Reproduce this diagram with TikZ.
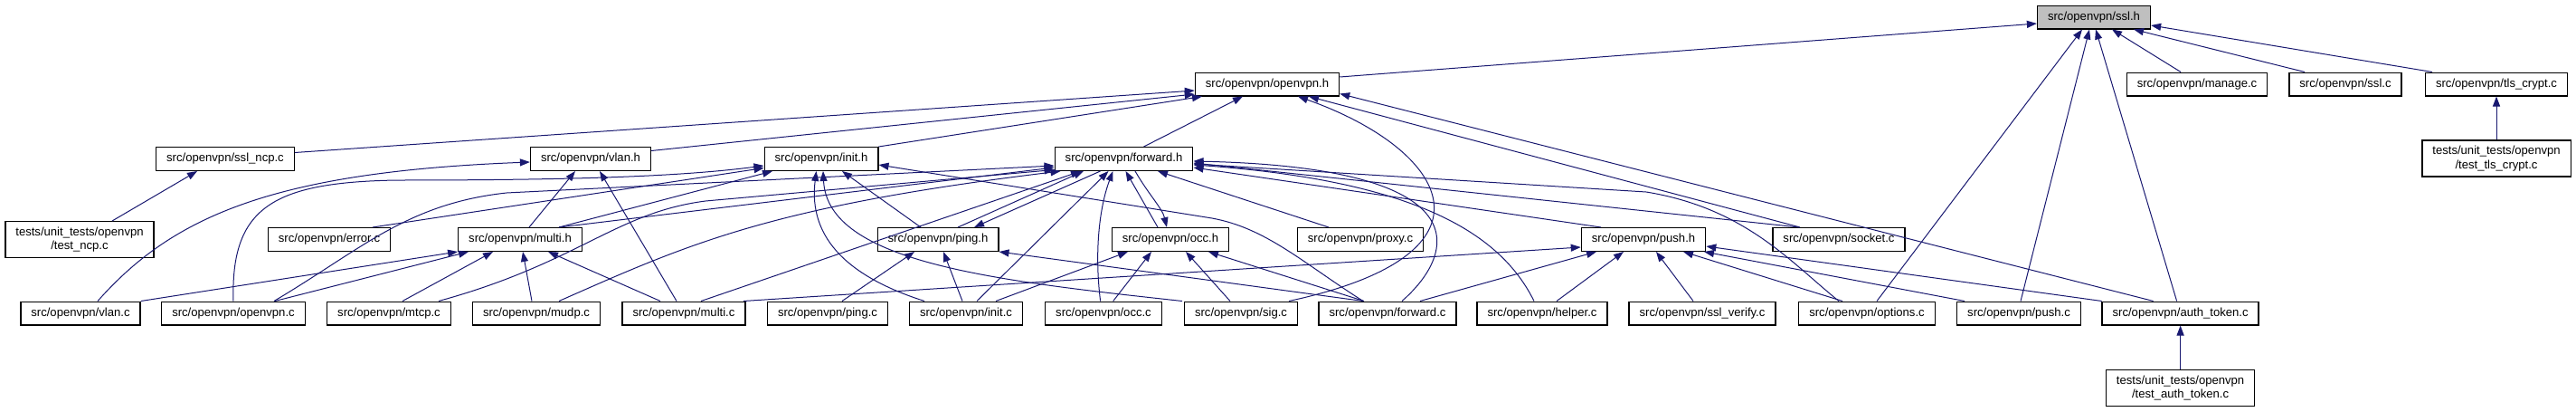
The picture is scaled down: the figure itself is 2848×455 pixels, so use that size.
\documentclass[tikz,border=0pt]{standalone}
\usepackage{fontspec}
\setmainfont{Liberation Sans}
\usetikzlibrary{arrows.meta}
\definecolor{depblue}{RGB}{25,25,112}

\begin{document}
\begin{tikzpicture}[
  x=1pt, y=-1pt,
  file/.style={draw, line width=1.3pt, fill=white, align=center, minimum height=25.7pt, inner xsep=11.5pt, inner ysep=6pt, font=\fontsize{13.1}{15.5}\selectfont},
  dep/.style={draw=depblue, line width=1pt, -{Triangle[length=11pt,width=8pt]}}
]
\useasboundingbox (0,0) rectangle (2848,455);
% row 0 and 1
\node[file, fill=black!25] (sslh) at (2315,19) {src/openvpn/ssl.h};
\node[file] (openvpnh) at (1401,93) {src/openvpn/openvpn.h};
\node[file] (managec) at (2429,93) {src/openvpn/manage.c};
\node[file] (sslc) at (2593,93) {src/openvpn/ssl.c};
\node[file] (tlscryptc) at (2760,93) {src/openvpn/tls\_crypt.c};
% row 2
\node[file] (sslncpc) at (249,175.5) {src/openvpn/ssl\_ncp.c};
\node[file] (vlanh) at (653,175.5) {src/openvpn/vlan.h};
\node[file] (inith) at (908,175.5) {src/openvpn/init.h};
\node[file] (forwardh) at (1242.5,175.5) {src/openvpn/forward.h};
\node[file] (testtlscrypt) at (2760,175) {tests/unit\_tests/openvpn\\/test\_tls\_crypt.c};
% row 3
\node[file] (testncp) at (88,264.5) {tests/unit\_tests/openvpn\\/test\_ncp.c};
\node[file] (errorc) at (364,264.5) {src/openvpn/error.c};
\node[file] (multih) at (575,264.5) {src/openvpn/multi.h};
\node[file] (pingh) at (1037,264.5) {src/openvpn/ping.h};
\node[file] (occh) at (1294,264.5) {src/openvpn/occ.h};
\node[file] (proxyc) at (1504,264.5) {src/openvpn/proxy.c};
\node[file] (pushh) at (1817,264.5) {src/openvpn/push.h};
\node[file] (socketc) at (2033,264.5) {src/openvpn/socket.c};
% row 4
\node[file] (vlanc) at (89,346) {src/openvpn/vlan.c};
\node[file] (openvpnc) at (258,346) {src/openvpn/openvpn.c};
\node[file] (mtcpc) at (430,346) {src/openvpn/mtcp.c};
\node[file] (mudpc) at (593,346) {src/openvpn/mudp.c};
\node[file] (multic) at (756,346) {src/openvpn/multi.c};
\node[file] (pingc) at (915,346) {src/openvpn/ping.c};
\node[file] (initc) at (1068,346) {src/openvpn/init.c};
\node[file] (occc) at (1220,346) {src/openvpn/occ.c};
\node[file] (sigc) at (1372,346) {src/openvpn/sig.c};
\node[file] (forwardc) at (1534,346) {src/openvpn/forward.c};
\node[file] (helperc) at (1705,346) {src/openvpn/helper.c};
\node[file] (sslverifyc) at (1882,346) {src/openvpn/ssl\_verify.c};
\node[file] (optionsc) at (2064,346) {src/openvpn/options.c};
\node[file] (pushc) at (2232,346) {src/openvpn/push.c};
\node[file] (authtokenc) at (2410.6,346) {src/openvpn/auth\_token.c};
% row 5
\node[file] (testauthtoken) at (2410.6,428.5) {tests/unit\_tests/openvpn\\/test\_auth\_token.c};

% into ssl.h
\draw[dep] ([yshift=8pt]openvpnh.east) -- ([yshift=-7pt]sslh.west);
\draw[dep] ([xshift=-18pt]managec.north) -- ([xshift=20pt]sslh.south);
\draw[dep] ([xshift=-45pt]sslc.north) -- ([xshift=44pt]sslh.south);
\draw[dep] ([xshift=-71pt]tlscryptc.north) -- ([yshift=-9pt]sslh.east);
\draw[dep] ([xshift=11pt]optionsc.north) -- ([xshift=-13pt]sslh.south);
\draw[dep] ([xshift=2pt]pushc.north) -- ([xshift=-5pt]sslh.south);
\draw[dep] ([xshift=-4pt]authtokenc.north) -- ([xshift=2pt]sslh.south);
\draw[dep] (testtlscrypt) -- (tlscryptc);
\draw[dep] (testauthtoken) -- (authtokenc);
% into openvpn.h
\draw[dep] ([yshift=7pt]sslncpc.east) -- ([yshift=-7pt]openvpnh.west);
\draw[dep] ([yshift=9pt]vlanh.east) -- ([yshift=-11pt]openvpnh.west);
\draw[dep] (inith.north east) -- ([xshift=-72pt]openvpnh.south);
\draw[dep] ([xshift=22pt]forwardh.north) -- ([xshift=-27pt]openvpnh.south);
\draw[dep] ([xshift=53pt]sigc.north) .. controls (1670,280) and (1600,165) .. ([xshift=34pt]openvpnh.south);
\draw[dep] ([xshift=-43pt]socketc.north) -- ([xshift=46pt]openvpnh.south);
\draw[dep] ([xshift=-30pt]authtokenc.north) -- ([yshift=3pt]openvpnh.south east);
% into vlan.h
\draw[dep] ([xshift=19pt]vlanc.north) .. controls (190,240) and (300,190) .. ([yshift=-3.5pt]vlanh.west);
\draw[dep] ([xshift=10pt]multih.north) -- ([xshift=-17pt]vlanh.south);
\draw[dep] ([xshift=-8pt]multic.north) -- ([xshift=10pt]vlanh.south);
% into init.h
\draw[dep] (openvpnc.north) .. controls (255,230) and (300,201) .. (440,199) .. controls (650,199) and (760,194) .. ([yshift=-7.5pt]inith.west);
\draw[dep] ([xshift=48pt]errorc.north) -- ([yshift=-10pt]inith.west);
\draw[dep] ([xshift=43pt]multih.north) -- ([xshift=-54pt]inith.south);
\draw[dep] ([xshift=-19pt]pingh.north) -- ([xshift=23pt]inith.south);
\draw[dep] ([xshift=-46pt]initc.north) .. controls (920,300) and (895,250) .. ([xshift=-5.5pt]inith.south);
\draw[dep] ([xshift=-65pt]sigc.north) .. controls (1100,310) and (915,290) .. ([xshift=2pt]inith.south);
\draw[dep] ([xshift=-27pt]forwardc.north) .. controls (1440,290) and (1400,252) .. (1340,241) -- ([yshift=-6.5pt]inith.east);
% into forward.h
\draw[dep] ([xshift=43pt]multih.north) -- ([yshift=-9.5pt]forwardh.west);
\draw[dep] ([xshift=45pt]openvpnc.north) .. controls (400,275) and (450,225) .. (560,213) -- ([yshift=-7.5pt]forwardh.west);
\draw[dep] ([xshift=55pt]mtcpc.north) .. controls (640,290) and (680,235) .. (780,222) -- ([yshift=-12pt]forwardh.west);
\draw[dep] ([xshift=25pt]mudpc.north) .. controls (760,270) and (850,228) .. ([xshift=-70pt]forwardh.south);
\draw[dep] ([xshift=19pt]multic.north) -- ([xshift=-47.5pt]forwardh.south);
\draw[dep] ([xshift=12pt]initc.north) -- ([xshift=-17pt]forwardh.south);
\draw[dep] ([xshift=-3.4pt]occc.north) .. controls (1210,280) and (1215,230) .. ([xshift=-12pt]forwardh.south);
\draw[dep] ([xshift=22pt]pingh.north) -- ([xshift=-44.5pt]forwardh.south);
\draw[dep] ([xshift=-26pt]forwardh.south) -- ([xshift=40pt]pingh.north);
\draw[dep] ([xshift=-14pt]occh.north) -- ([xshift=2pt]forwardh.south);
\draw[dep] ([xshift=12.5pt]forwardh.south) .. controls (1270,215) and (1285,230) .. ([xshift=-4pt]occh.north);
\draw[dep] ([xshift=-35pt]proxyc.north) -- ([xshift=37.5pt]forwardh.south);
\draw[dep] ([xshift=16pt]forwardc.north) .. controls (1610,280) and (1640,185) .. ([yshift=-2.5pt]forwardh.east);
\draw[dep] ([xshift=-9pt]helperc.north) .. controls (1660,260) and (1570,200) .. ([yshift=-6.5pt]forwardh.east);
\draw[dep] ([xshift=-47pt]pushh.north) -- ([yshift=-9.5pt]forwardh.east);
\draw[dep] ([xshift=-44pt]socketc.north) -- ([yshift=-4.5pt]forwardh.east);
\draw[dep] ([xshift=-31pt]optionsc.north) .. controls (1980,290) and (1930,230) .. (1820,212) -- ([yshift=-5.5pt]forwardh.east);
% into push.h
\draw[dep] ([xshift=66pt]multic.north) -- ([yshift=-8.5pt]pushh.west);
\draw[dep] ([xshift=36pt]forwardc.north) -- ([xshift=-52pt]pushh.south);
\draw[dep] ([xshift=16pt]helperc.north) -- ([xshift=-22pt]pushh.south);
\draw[dep] ([xshift=-10pt]sslverifyc.north) -- ([xshift=14pt]pushh.south);
\draw[dep] ([xshift=-27pt]optionsc.north) -- ([xshift=44pt]pushh.south);
\draw[dep] ([xshift=-60pt]pushc.north) -- ([xshift=67pt]pushh.south);
\draw[dep] ([xshift=-87pt]authtokenc.north) -- ([yshift=-7.5pt]pushh.east);
% into ping.h
\draw[dep] ([xshift=16pt]pingc.north) -- ([xshift=-26pt]pingh.south);
\draw[dep] ([xshift=-4pt]initc.north) -- ([xshift=6pt]pingh.south);
\draw[dep] ([xshift=-27pt]forwardc.north) -- (pingh.south east);
% into occ.h
\draw[dep] ([xshift=33pt]initc.north) -- ([xshift=-47pt]occh.south);
\draw[dep] ([xshift=10.7pt]occc.north) -- ([xshift=-21pt]occh.south);
\draw[dep] ([xshift=-12pt]sigc.north) -- ([xshift=17pt]occh.south);
\draw[dep] ([xshift=-26pt]forwardc.north) -- ([xshift=42pt]occh.south);
% into multi.h
\draw[dep] (vlanc.north east) -- (multih.south west);
\draw[dep] ([xshift=46pt]openvpnc.north) -- ([xshift=-57pt]multih.south);
\draw[dep] ([xshift=15pt]mtcpc.north) -- ([xshift=-30pt]multih.south);
\draw[dep] ([xshift=-5pt]mudpc.north) -- ([xshift=3pt]multih.south);
\draw[dep] ([xshift=-26pt]multic.north) -- ([xshift=31pt]multih.south);
% into ssl_ncp.c
\draw[dep] ([xshift=36pt]testncp.north) -- ([xshift=-31pt]sslncpc.south);
\end{tikzpicture}
\end{document}
